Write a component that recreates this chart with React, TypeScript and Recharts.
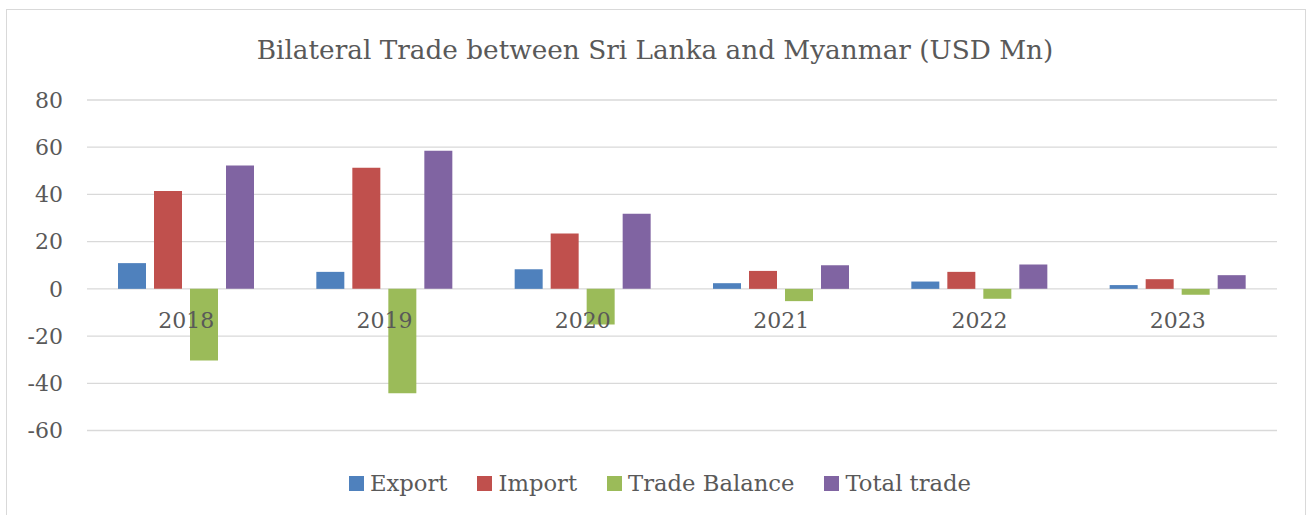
import React from 'react';
import { BarChart, Bar, XAxis, YAxis, CartesianGrid, Legend } from 'recharts';

const years = ['2018', '2019', '2020', '2021', '2022', '2023'];
const exportValues = [10.9, 7.2, 8.3, 2.4, 3.1, 1.6];
const importValues = [41.4, 51.3, 23.4, 7.6, 7.2, 4.1];
const balanceValues = [-30.4, -44.2, -15.1, -5.2, -4.2, -2.5];
const totalValues = [52.3, 58.5, 31.8, 10.0, 10.3, 5.8];
const yTicks = [-60, -40, -20, 0, 20, 40, 60, 80];
const seriesNames = ['Export', 'Import', 'Trade Balance', 'Total trade'];

const data = years.map((year, i) => ({
  year,
  Export: exportValues[i],
  Import: importValues[i],
  'Trade Balance': balanceValues[i],
  'Total trade': totalValues[i],
}));

const FONT = '"DejaVu Serif", serif';
const TEXT = '#595959';

const YearTick = (props: any) => (
  <text
    x={props.x}
    y={props.y}
    dy={-103}
    textAnchor="middle"
    fill={TEXT}
    fontSize={22}
    fontFamily={FONT}
  >
    {props.payload.value}
  </text>
);

const LegendContent = (props: any) => {
  const items = [...(props.payload || [])].sort(
    (a: any, b: any) => seriesNames.indexOf(a.value) - seriesNames.indexOf(b.value)
  );
  return (
    <div style={{ display: 'flex', justifyContent: 'center', alignItems: 'center' }}>
      {items.map((entry: any, i: number) => (
        <div
          key={entry.value}
          style={{ display: 'flex', alignItems: 'center', marginRight: i < items.length - 1 ? 30 : 0 }}
        >
          <div style={{ width: 15, height: 15, background: entry.color, marginRight: 6 }} />
          <span style={{ fontFamily: FONT, fontSize: 22.7, color: TEXT, lineHeight: '26px' }}>
            {entry.value}
          </span>
        </div>
      ))}
    </div>
  );
};

export default function App() {
  return (
    <div
      style={{
        position: 'absolute',
        left: 0,
        top: 0,
        width: 1308,
        height: 515,
        overflow: 'hidden',
        background: '#fff',
      }}
    >
      <div
        style={{
          position: 'absolute',
          left: 6,
          top: 9,
          width: 1298,
          height: 560,
          border: '1px solid #d9d9d9',
        }}
      />
      <div
        style={{
          position: 'absolute',
          left: 0,
          top: 33,
          width: 1310,
          textAlign: 'center',
          fontFamily: FONT,
          fontSize: 26.3,
          color: TEXT,
          lineHeight: '34px',
        }}
      >
        Bilateral Trade between Sri Lanka and Myanmar (USD Mn)
      </div>
      <BarChart
        width={1308}
        height={515}
        data={data}
        margin={{ top: 100, right: 31, left: 0, bottom: 54.5 }}
        barCategoryGap={31}
        barGap={8}
        style={{ position: 'absolute', left: 0, top: 0 }}
      >
        <CartesianGrid vertical={false} stroke="#d9d9d9" strokeWidth={1.3} />
        <XAxis
          dataKey="year"
          axisLine={false}
          tickLine={false}
          tickSize={0}
          tickMargin={0}
          tick={<YearTick />}
        />
        <YAxis
          width={87}
          domain={[-60, 80]}
          ticks={yTicks}
          axisLine={false}
          tickLine={false}
          tickSize={0}
          tickMargin={24}
          tick={{ fill: TEXT, fontSize: 22, fontFamily: FONT }}
        />
        <Legend
          verticalAlign="middle"
          align="center"
          content={<LegendContent />}
          wrapperStyle={{ top: 470, left: 6, width: 1308 }}
        />
        <Bar dataKey="Export" fill="#4F81BD" isAnimationActive={false} />
        <Bar dataKey="Import" fill="#C0504D" isAnimationActive={false} />
        <Bar dataKey="Trade Balance" fill="#9BBB59" isAnimationActive={false} />
        <Bar dataKey="Total trade" fill="#8064A2" isAnimationActive={false} />
      </BarChart>
    </div>
  );
}
